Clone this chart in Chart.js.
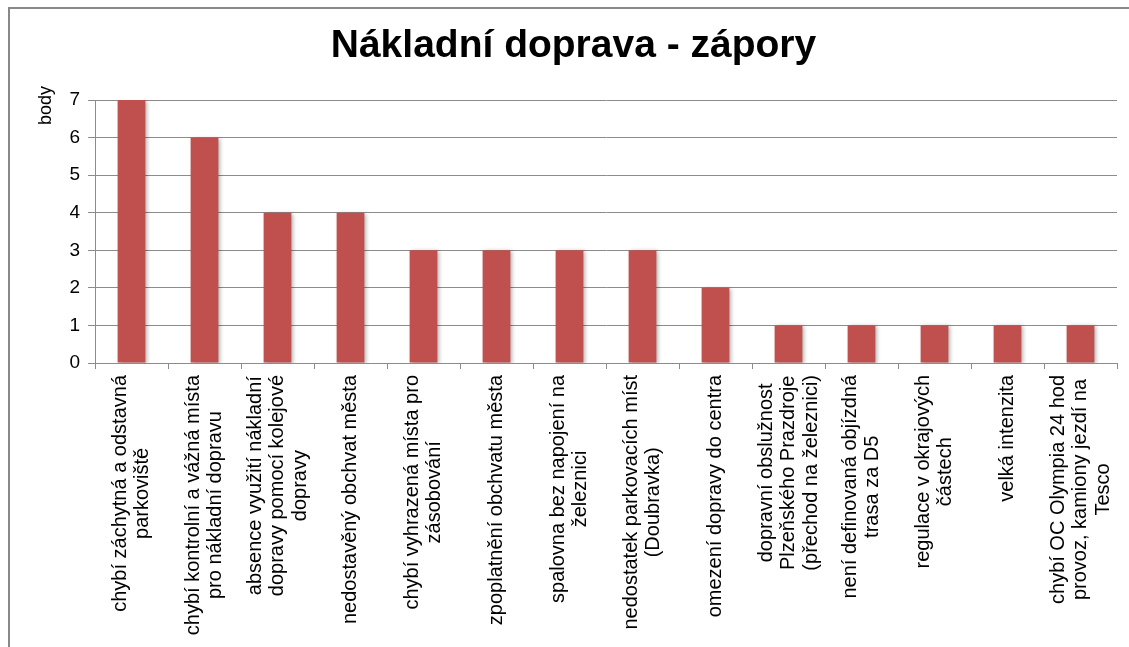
<!DOCTYPE html>
<html>
<head>
<meta charset="utf-8">
<title>Nákladní doprava - zápory</title>
<script src="https://cdn.jsdelivr.net/npm/chart.js@4.4.1/dist/chart.umd.min.js"></script>
<style>
  html, body { margin: 0; padding: 0; background: #fff; }
  canvas { display: block; }
</style>
</head>
<body>
<canvas id="myChart" width="1129" height="647"></canvas>
<script>
// category labels, already split into lines like in the original
const categories = [
  ["chybí záchytná a odstavná", "parkoviště"],
  ["chybí kontrolní a vážná místa", "pro nákladní dopravu"],
  ["absence využití nákladní", "dopravy pomocí kolejové", "dopravy"],
  ["nedostavěný obchvat města"],
  ["chybí vyhrazená místa pro", "zásobování"],
  ["zpoplatnění obchvatu města"],
  ["spalovna bez napojení na", "železnici"],
  ["nedostatek parkovacích míst", "(Doubravka)"],
  ["omezení dopravy do centra"],
  ["dopravní obslužnost", "Plzeňského Prazdroje", "(přechod na železnici)"],
  ["není definovaná objízdná", "trasa za D5"],
  ["regulace v okrajových", "částech"],
  ["velká intenzita"],
  ["chybí OC Olympia 24 hod", "provoz, kamiony jezdí na", "Tesco"]
];
const points = [7, 6, 4, 4, 3, 3, 3, 3, 2, 1, 1, 1, 1, 1];
const yTicks = [0, 1, 2, 3, 4, 5, 6, 7];
const yTitle = 'body';

const FONT = "'Liberation Sans', Arial, sans-serif";

// white background + the grey frame of the original sheet
const framePlugin = {
  id: 'frame',
  beforeDraw(chart) {
    const ctx = chart.ctx;
    ctx.save();
    ctx.fillStyle = '#fff';
    ctx.fillRect(0, 0, chart.width, chart.height);
    ctx.strokeStyle = '#888';
    ctx.lineWidth = 2;
    ctx.beginPath();
    ctx.moveTo(9, chart.height);
    ctx.lineTo(9, 8);
    ctx.lineTo(chart.width, 8);
    ctx.stroke();
    ctx.restore();
  }
};

// soft shadow under the bars
const shadowPlugin = {
  id: 'barShadow',
  beforeDatasetsDraw(chart) {
    const ctx = chart.ctx;
    ctx.save();
    ctx.shadowColor = 'rgba(0,0,0,0.3)';
    ctx.shadowBlur = 4;
    ctx.shadowOffsetX = 2;
    ctx.shadowOffsetY = 1;
  },
  afterDatasetsDraw(chart) {
    chart.ctx.restore();
  }
};

// vertical, centered multi-line category labels + the "body" axis title
const labelPlugin = {
  id: 'vertLabels',
  afterDraw(chart) {
    const ctx = chart.ctx;
    const xs = chart.scales.x;
    const ys = chart.scales.y;
    const top = xs.top + 12;
    const lineH = 22.5;
    ctx.save();
    ctx.font = '20px ' + FONT;
    ctx.fillStyle = '#000';
    ctx.textAlign = 'center';
    ctx.textBaseline = 'middle';
    categories.forEach(function (lines, i) {
      const x = xs.getPixelForValue(i);
      let maxW = 0;
      lines.forEach(function (l) { maxW = Math.max(maxW, ctx.measureText(l).width); });
      ctx.save();
      ctx.translate(x, top + maxW / 2);
      ctx.rotate(-Math.PI / 2);
      lines.forEach(function (l, k) {
        ctx.fillText(l, 0, (k - (lines.length - 1) / 2) * lineH);
      });
      ctx.restore();
    });

    ctx.font = '18px ' + FONT;
    ctx.textAlign = 'right';
    ctx.save();
    ctx.translate(46, ys.top - 14);
    ctx.rotate(-Math.PI / 2);
    ctx.fillText(yTitle, 0, 0);
    ctx.restore();
    ctx.restore();
  }
};

new Chart(document.getElementById('myChart'), {
  type: 'bar',
  data: {
    labels: categories.map(function (c) { return c.join(' '); }),
    datasets: [{
      data: points,
      backgroundColor: '#C0504D',
      borderWidth: 0,
      barPercentage: 0.38,
      categoryPercentage: 1
    }]
  },
  options: {
    responsive: false,
    animation: false,
    layout: { padding: { left: 30, right: 12, top: 0, bottom: 0 } },
    plugins: {
      legend: { display: false },
      tooltip: { enabled: false },
      title: {
        display: true,
        text: 'Nákladní doprava - zápory',
        color: '#000',
        font: { family: FONT, size: 39, weight: 'bold' },
        padding: { top: 23, bottom: 30.2 }
      }
    },
    scales: {
      x: {
        offset: true,
        ticks: { display: false },
        grid: {
          offset: true,
          drawOnChartArea: false,
          drawTicks: true,
          tickLength: 6,
          color: '#8c8c8c'
        },
        border: { color: '#8c8c8c' },
        afterFit: function (s) { s.height = 284; }
      },
      y: {
        min: 0,
        max: 7,
        afterBuildTicks: function (s) { s.ticks = yTicks.map(function (v) { return { value: v }; }); },
        ticks: {
          color: '#000',
          padding: 8,
          font: { family: FONT, size: 19 }
        },
        grid: { color: '#8c8c8c', tickLength: 7 },
        border: { color: '#8c8c8c' },
        afterFit: function (s) { s.width = 65; }
      }
    }
  },
  plugins: [framePlugin, shadowPlugin, labelPlugin]
});
</script>
</body>
</html>
